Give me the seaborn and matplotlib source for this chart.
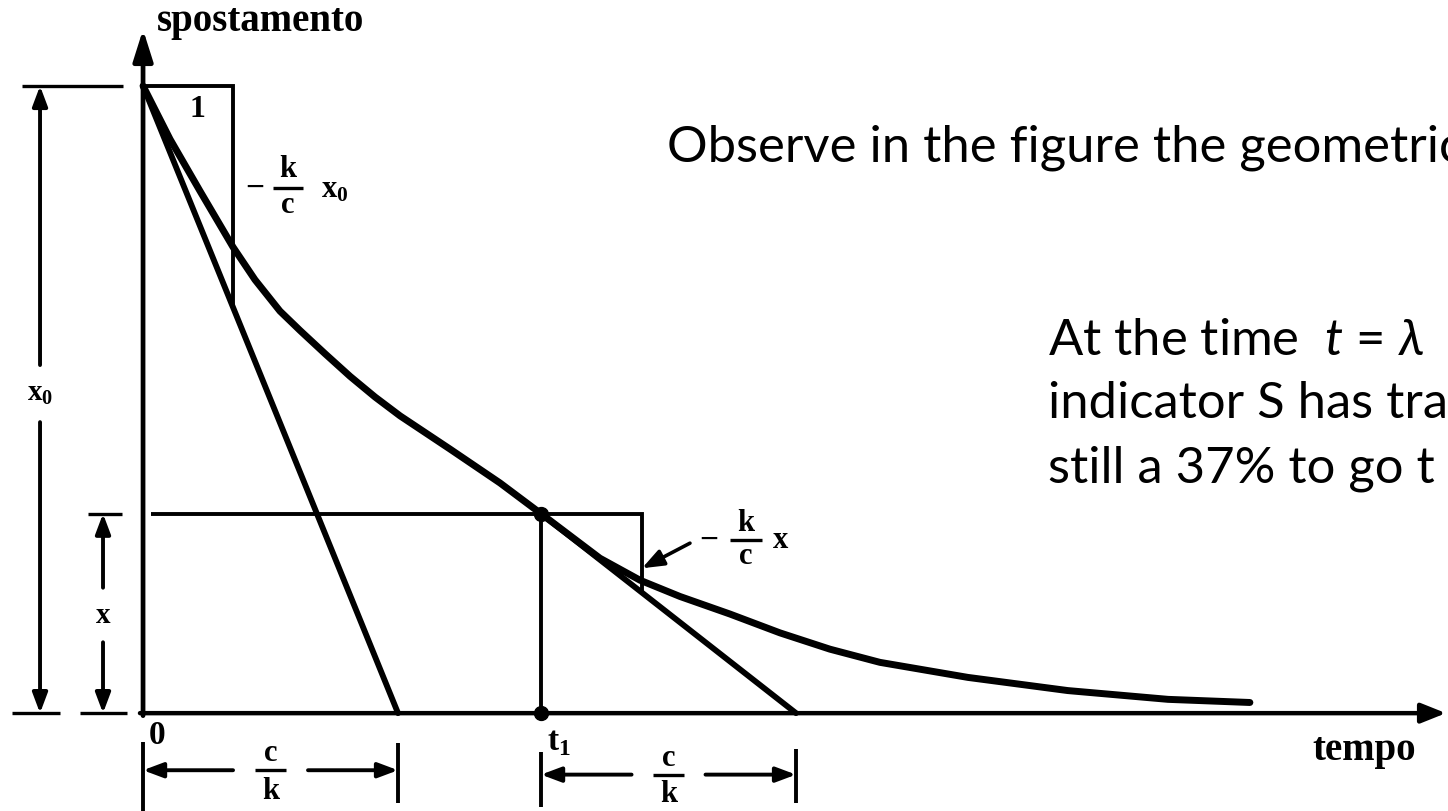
import matplotlib
matplotlib.use("Agg")
import matplotlib.pyplot as plt
import pandas as pd
import seaborn as sns

# Free response of the indicator: time in units of c/k, displacement in units of x0
time_values = [0.0, 0.106, 0.224, 0.353, 0.439, 0.537, 0.616, 0.714, 0.812, 0.910,
               1.008, 1.204, 1.400, 1.561, 1.792, 1.949, 2.106, 2.302, 2.498, 2.694,
               2.890, 3.235, 3.627, 4.020, 4.341]
displacement = [1.0, 0.915, 0.832, 0.743, 0.691, 0.641, 0.610, 0.573, 0.537, 0.504,
                0.474, 0.421, 0.367, 0.318, 0.247, 0.212, 0.186, 0.158, 0.128, 0.102,
                0.081, 0.057, 0.036, 0.022, 0.017]

x0 = 1.0        # initial displacement
tau = 1.0       # time constant c/k
t1 = 1.561      # instant of the second tangent
step0 = 0.353   # run of the slope triangle at t = 0
step1 = 0.396   # run of the slope triangle at t1
x1 = displacement[time_values.index(t1)]

sns.set_theme(style="white")
plt.rcParams["font.family"] = ["Liberation Serif", "DejaVu Serif"]
plt.rcParams["mathtext.fontset"] = "custom"
plt.rcParams["mathtext.rm"] = "Lato"
plt.rcParams["mathtext.it"] = "Lato:italic"
plt.rcParams["mathtext.bf"] = "Liberation Serif:bold"

INK = "black"
SERIF = dict(family=["Liberation Serif", "DejaVu Serif"], fontweight="bold", color=INK,
             ha="center", va="center")
SANS = dict(family=["Lato", "DejaVu Sans"], color=INK, ha="left", va="baseline",
            fontsize=36.5)

fig = plt.figure(figsize=(14.48, 8.11), dpi=100)
fig.patch.set_facecolor("white")
ax = fig.add_axes([0, 0, 1, 1])
ax.set_xlim(-0.561, 5.118)
ax.set_ylim(-0.156, 1.137)
ax.axis("off")


def arrow(start, end, lw=2.8, hl=1.2, hw=0.45):
    ax.annotate("", xy=end, xytext=start, annotation_clip=False,
                arrowprops=dict(arrowstyle=f"-|>,head_length={hl},head_width={hw}",
                                mutation_scale=10, lw=lw, color=INK,
                                shrinkA=0, shrinkB=0))


def seg(xs, ys, lw=2.8):
    ax.plot(xs, ys, color=INK, lw=lw, solid_capstyle="butt", solid_joinstyle="miter")


def fraction(xc, yc, num, den, size, half, up, down):
    ax.text(xc, yc + up, num, fontsize=size, **SERIF)
    seg([xc - half, xc + half], [yc, yc], lw=2.4)
    ax.text(xc, yc - down, den, fontsize=size, **SERIF)


# coordinate axes
arrow((0, -0.004), (0, 1.09), lw=3.4, hl=1.9, hw=0.6)
arrow((-0.012, 0), (5.11, 0), lw=3.2, hl=1.5, hw=0.6)
ax.text(0.459, 1.102, "spostamento", fontsize=28, **SERIF)
ax.text(4.788, -0.059, "tempo", fontsize=28, **SERIF)
ax.text(0.055, -0.035, "0", fontsize=24, **SERIF)

# exponential decay curve
curve = pd.DataFrame({"tempo": time_values, "spostamento": displacement})
sns.lineplot(data=curve, x="tempo", y="spostamento", ax=ax, color=INK, lw=5.0,
             sort=False, estimator=None, solid_joinstyle="round", solid_capstyle="round")

# tangents at t = 0 and at t1
tan0 = pd.DataFrame({"tempo": [0, tau], "spostamento": [x0, 0]})
tan1 = pd.DataFrame({"tempo": [t1, t1 + tau], "spostamento": [x1, 0]})
for tan in (tan0, tan1):
    sns.lineplot(data=tan, x="tempo", y="spostamento", ax=ax, color=INK, lw=4.2,
                 sort=False, estimator=None, solid_capstyle="round")

# slope triangle at t = 0
seg([0, step0, step0], [x0, x0, x0 * (1 - step0 / tau)])
ax.text(0.212, 0.962, "1", fontsize=23, **SERIF)
ax.text(0.44, 0.837, "\u2212", fontsize=24, **SERIF)
fraction(0.568, 0.837, "k", "c", 22, 0.06, 0.029, 0.027)
ax.text(0.75, 0.835, r"$\mathbf{x}_\mathbf{0}$", fontsize=22, **SERIF)

# state at t1 and its slope triangle
seg([0.03, t1 + step1, t1 + step1], [x1, x1, x1 * (1 - step1 / tau)])
seg([t1, t1], [x1, 0])
ax.plot([t1, t1], [x1, 0], "o", color=INK, ms=10)
arrow((2.145, 0.271), (t1 + step1, 0.231), lw=2.6, hl=1.3, hw=0.5)
ax.text(2.22, 0.276, "\u2212", fontsize=24, **SERIF)
fraction(2.365, 0.276, "k", "c", 22, 0.063, 0.026, 0.027)
ax.text(2.50, 0.276, "x", fontsize=22, **SERIF)

# dimension x0
xd = -0.404
seg([-0.475, -0.078], [x0, x0], lw=2.4)
seg([-0.514, -0.325], [0, 0], lw=2.4)
seg([-0.247, -0.063], [0, 0], lw=2.4)
arrow((xd, 0.555), (xd, x0))
arrow((xd, 0.464), (xd, 0))
ax.text(xd, 0.51, r"$\mathbf{x}_\mathbf{0}$", fontsize=21, **SERIF)

# dimension x
xd = -0.157
seg([-0.216, -0.082], [x1, x1], lw=2.4)
arrow((xd, 0.2), (xd, x1))
arrow((xd, 0.113), (xd, 0))
ax.text(xd, 0.156, "x", fontsize=21, **SERIF)

# dimension c/k from t = 0
yd = -0.091
seg([0, 0], [-0.046, -0.156])
seg([tau, tau], [-0.048, -0.144])
arrow((tau / 2 - 0.147, yd), (0, yd))
arrow((tau / 2 + 0.147, yd), (tau, yd))
fraction(tau / 2, yd, "c", "k", 22, 0.062, 0.027, 0.034)

# dimension c/k from t1
yd = -0.098
seg([t1, t1], [-0.062, -0.15])
seg([t1 + tau, t1 + tau], [-0.057, -0.144])
arrow((t1 + tau / 2 - 0.145, yd), (t1, yd))
arrow((t1 + tau / 2 + 0.145, yd), (t1 + tau, yd))
fraction(t1 + tau / 2, yd, "c", "k", 22, 0.062, 0.026, 0.031)
ax.text(t1 + 0.07, -0.046, r"$\mathbf{t}_\mathbf{1}$", fontsize=24, **SERIF)

# explanatory text, running off the right edge
ax.text(2.055, 0.879, "Observe in the figure the geometric", **SANS)
ax.text(3.549, 0.571, r"At the time  $t$ = $\lambda$", **SANS)
ax.text(3.549, 0.470, "indicator S has tra", **SANS)
ax.text(3.549, 0.368, "still a 37% to go t", **SANS)

fig.savefig("out.png", dpi=100, facecolor="white")
